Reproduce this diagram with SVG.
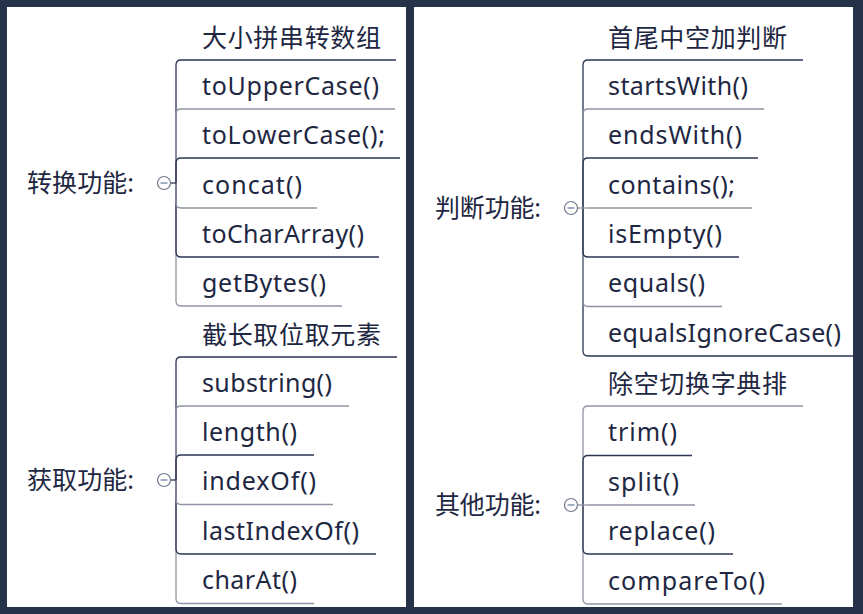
<svg xmlns="http://www.w3.org/2000/svg" width="863" height="614" viewBox="0 0 863 614">
<style>
text{font-family:"Noto Sans","Noto Sans CJK SC",sans-serif;font-size:25px;fill:#1e2742}
.d{stroke:#2b3452;stroke-width:1.3;fill:none}
.g{stroke:#8e95a3;stroke-width:1.3;fill:none}
.tg circle{fill:#fff;stroke:#707889;stroke-width:1.2}
.tg line{stroke:#8a9bb8;stroke-width:1.6}
</style>
<rect x="0" y="0" width="863" height="614" fill="#263249"/>
<rect x="7" y="7" width="399" height="600" fill="#fff"/>
<rect x="414" y="7" width="439" height="600" fill="#fff"/>

<g id="connectors">
<path class="g" d="M176 183V301Q176 306 181 306"/>
<path class="d" d="M176 183V252Q176 257 181 257"/>
<path class="g" d="M176 183V203Q176 208 181 208"/>
<path class="d" d="M176 183V65Q176 60 181 60"/>
<path class="g" d="M176 183V114Q176 109 181 109"/>
<path class="d" d="M176 183V163Q176 158 181 158"/>
<path class="d" d="M170.5 183H176"/>
<path class="g" d="M176 480V598.5Q176 603.5 181 603.5"/>
<path class="d" d="M176 480V549Q176 554 181 554"/>
<path class="g" d="M176 480V499.5Q176 504.5 181 504.5"/>
<path class="d" d="M176 480V362Q176 357 181 357"/>
<path class="g" d="M176 480V411Q176 406 181 406"/>
<path class="d" d="M176 480V460Q176 455 181 455"/>
<path class="d" d="M170.5 480H176"/>
<path class="d" d="M583 208V351Q583 356 588 356"/>
<path class="g" d="M583 208V301.5Q583 306.5 588 306.5"/>
<path class="d" d="M583 208V252Q583 257 588 257"/>
<path class="d" d="M583 208V65Q583 60 588 60"/>
<path class="g" d="M583 208V114Q583 109 588 109"/>
<path class="d" d="M583 208V163Q583 158 588 158"/>
<path class="g" d="M577.5 208H588"/>
<path class="g" d="M583 505V599Q583 604 588 604"/>
<path class="d" d="M583 505V549Q583 554 588 554"/>
<path class="g" d="M583 505V411Q583 406 588 406"/>
<path class="d" d="M583 505V460.5Q583 455.5 588 455.5"/>
<path class="g" d="M577.5 505H588"/>
</g>

<g id="root-zhuanhuan"><text x="27" y="191.5" textLength="107">转换功能:</text>
<g class="tg"><circle cx="164" cy="183" r="6.5"/><line x1="160.5" y1="183" x2="167.5" y2="183"/></g></g>
<g id="root-huoqu"><text x="27" y="488.5" textLength="107">获取功能:</text>
<g class="tg"><circle cx="164" cy="480" r="6.5"/><line x1="160.5" y1="480" x2="167.5" y2="480"/></g></g>
<g id="root-panduan"><text x="435" y="216.5" textLength="106">判断功能:</text>
<g class="tg"><circle cx="571" cy="208" r="6.5"/><line x1="567.5" y1="208" x2="574.5" y2="208"/></g></g>
<g id="root-qita"><text x="435" y="513.5" textLength="106">其他功能:</text>
<g class="tg"><circle cx="571" cy="505" r="6.5"/><line x1="567.5" y1="505" x2="574.5" y2="505"/></g></g>

<g id="n-daxiao"><text x="202" y="46.5" textLength="179">大小拼串转数组</text><path class="d" d="M181 60H396"/></g>
<g id="n-toUpperCase"><text x="202" y="94.5" textLength="177">toUpperCase()</text><path class="g" d="M181 109H395"/></g>
<g id="n-toLowerCase"><text x="202" y="143.5" textLength="183">toLowerCase();</text><path class="d" d="M181 158H400"/></g>
<g id="n-concat"><text x="202" y="193.5" textLength="100">concat()</text><path class="g" d="M181 208H317"/></g>
<g id="n-toCharArray"><text x="202" y="242.5" textLength="162">toCharArray()</text><path class="d" d="M181 257H379"/></g>
<g id="n-getBytes"><text x="202" y="291.5" textLength="124">getBytes()</text><path class="g" d="M181 306H342"/></g>

<g id="n-jiechang"><text x="202" y="343.5" textLength="179">截长取位取元素</text><path class="d" d="M181 357H397"/></g>
<g id="n-substring"><text x="202" y="391.5" textLength="130">substring()</text><path class="g" d="M181 406H349"/></g>
<g id="n-length"><text x="202" y="440.5" textLength="95">length()</text><path class="d" d="M181 455H314"/></g>
<g id="n-indexOf"><text x="202" y="490" textLength="114">indexOf()</text><path class="g" d="M181 504.5H333"/></g>
<g id="n-lastIndexOf"><text x="202" y="539.5" textLength="157">lastIndexOf()</text><path class="d" d="M181 554H376"/></g>
<g id="n-charAt"><text x="202" y="589" textLength="95">charAt()</text><path class="g" d="M181 603.5H314"/></g>

<g id="n-shouwei"><text x="608" y="46.5" textLength="179">首尾中空加判断</text><path class="d" d="M588 60H803"/></g>
<g id="n-startsWith"><text x="608" y="94.5" textLength="140">startsWith()</text><path class="g" d="M588 109H764"/></g>
<g id="n-endsWith"><text x="608" y="143.5" textLength="134">endsWith()</text><path class="d" d="M588 158H758"/></g>
<g id="n-contains"><text x="608" y="193.5" textLength="127">contains();</text><path class="g" d="M588 208H752"/></g>
<g id="n-isEmpty"><text x="608" y="242.5" textLength="114">isEmpty()</text><path class="d" d="M588 257H739"/></g>
<g id="n-equals"><text x="608" y="292" textLength="97">equals()</text><path class="g" d="M588 306.5H722"/></g>
<g id="n-equalsIgnoreCase"><text x="608" y="341.5" textLength="233">equalsIgnoreCase()</text><path class="d" d="M588 356H853"/></g>

<g id="n-chukong"><text x="608" y="392.5" textLength="179">除空切换字典排</text><path class="g" d="M588 406H803"/></g>
<g id="n-trim"><text x="608" y="441" textLength="69">trim()</text><path class="d" d="M588 455.5H692"/></g>
<g id="n-split"><text x="608" y="490.5" textLength="71">split()</text><path class="g" d="M588 505H695"/></g>
<g id="n-replace"><text x="608" y="539.5" textLength="107">replace()</text><path class="d" d="M588 554H733"/></g>
<g id="n-compareTo"><text x="608" y="589.5" textLength="157">compareTo()</text><path class="g" d="M588 604H782"/></g>
</svg>
